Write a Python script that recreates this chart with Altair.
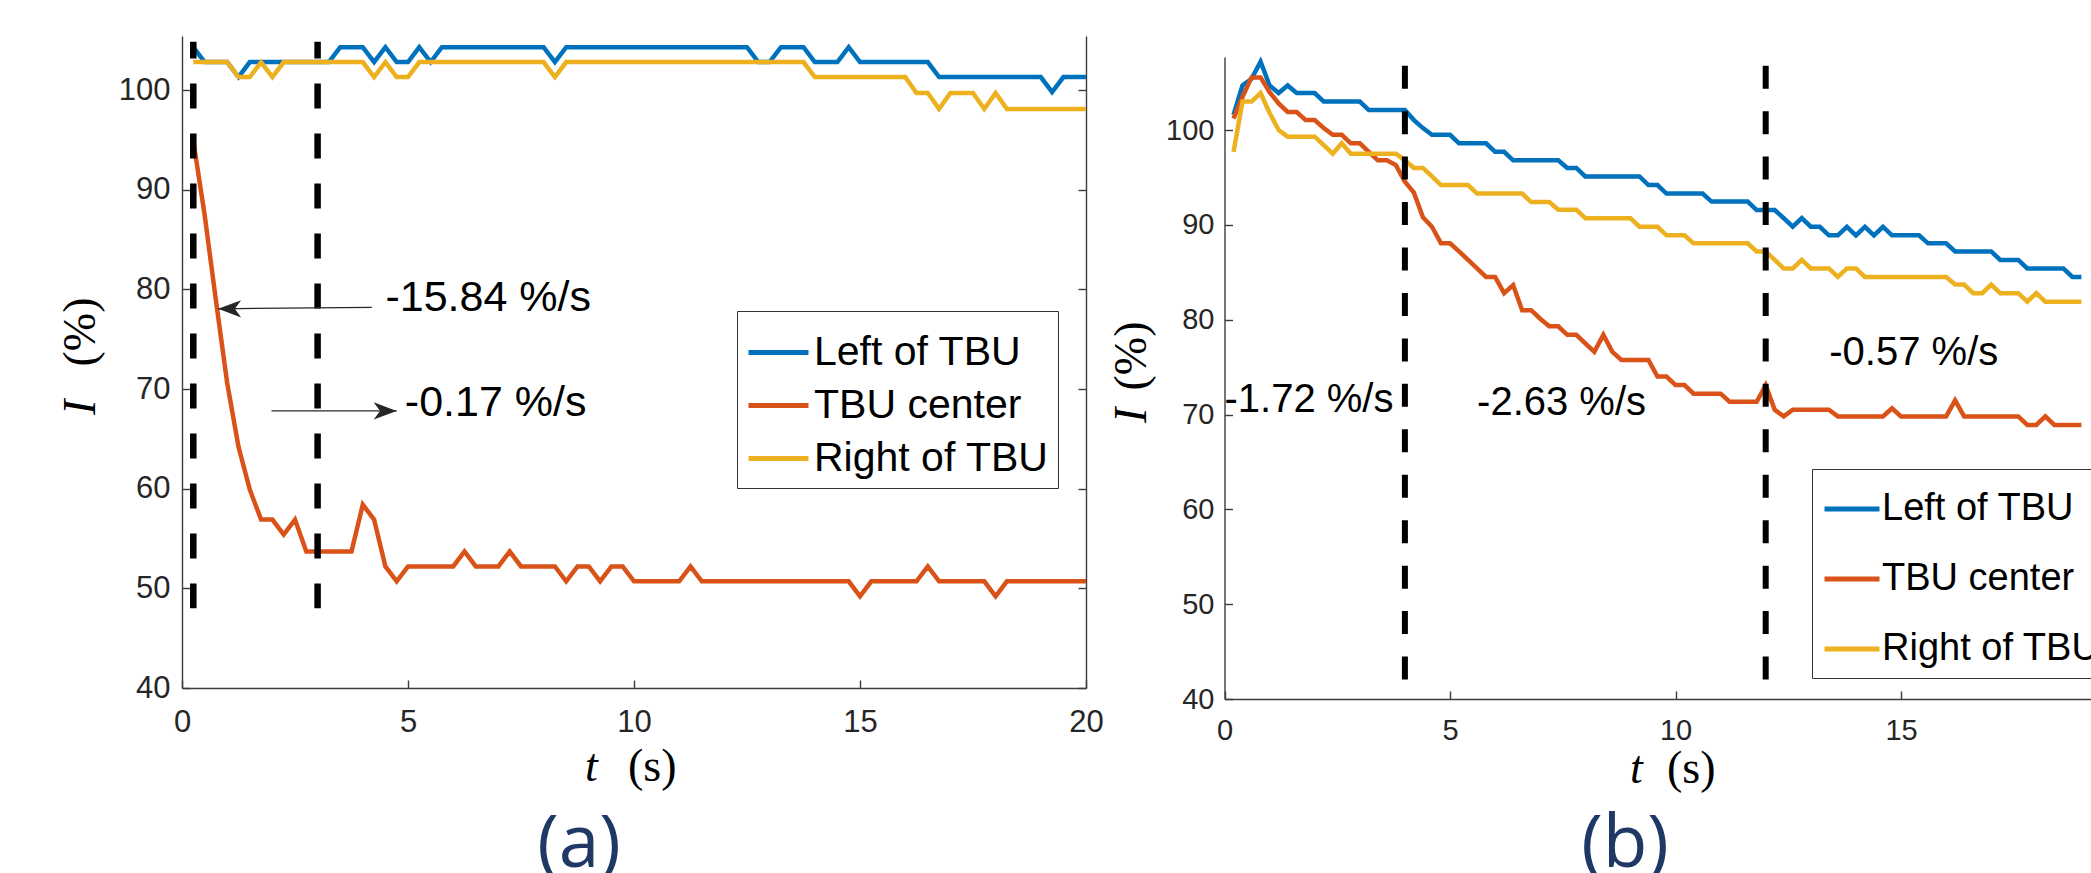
import altair as alt
import pandas as pd

# ---------------- data: panel (a) ----------------
T_A = [round(0.25 * k, 2) for k in range(1, 81)]  # sample times 0.25 ... 20 s
LEFT_A = [104.3, 102.8, 102.8, 102.8, 101.3, 102.8, 102.8, 102.8, 102.8, 102.8,
          102.8, 102.8, 102.8, 104.3, 104.3, 104.3, 102.8, 104.3, 102.8, 102.8,
          104.3, 102.8, 104.3, 104.3, 104.3, 104.3, 104.3, 104.3, 104.3, 104.3,
          104.3, 104.3, 102.8, 104.3, 104.3, 104.3, 104.3, 104.3, 104.3, 104.3,
          104.3, 104.3, 104.3, 104.3, 104.3, 104.3, 104.3, 104.3, 104.3, 104.3,
          102.8, 102.8, 104.3, 104.3, 104.3, 102.8, 102.8, 102.8, 104.3, 102.8,
          102.8, 102.8, 102.8, 102.8, 102.8, 102.8, 101.3, 101.3, 101.3, 101.3,
          101.3, 101.3, 101.3, 101.3, 101.3, 101.3, 99.8, 101.3, 101.3, 101.3]
CENTER_A = [94.9, 87.5, 78.9, 70.6, 64.2, 59.9, 56.9, 56.9, 55.4, 56.9,
            53.7, 53.7, 53.7, 53.7, 53.7, 58.4, 56.9, 52.2, 50.7, 52.2,
            52.2, 52.2, 52.2, 52.2, 53.7, 52.2, 52.2, 52.2, 53.7, 52.2,
            52.2, 52.2, 52.2, 50.7, 52.2, 52.2, 50.7, 52.2, 52.2, 50.7,
            50.7, 50.7, 50.7, 50.7, 52.2, 50.7, 50.7, 50.7, 50.7, 50.7,
            50.7, 50.7, 50.7, 50.7, 50.7, 50.7, 50.7, 50.7, 50.7, 49.2,
            50.7, 50.7, 50.7, 50.7, 50.7, 52.2, 50.7, 50.7, 50.7, 50.7,
            50.7, 49.2, 50.7, 50.7, 50.7, 50.7, 50.7, 50.7, 50.7, 50.7]
RIGHT_A = [102.8, 102.8, 102.8, 102.8, 101.3, 101.3, 102.8, 101.3, 102.8, 102.8,
           102.8, 102.8, 102.8, 102.8, 102.8, 102.8, 101.3, 102.8, 101.3, 101.3,
           102.8, 102.8, 102.8, 102.8, 102.8, 102.8, 102.8, 102.8, 102.8, 102.8,
           102.8, 102.8, 101.3, 102.8, 102.8, 102.8, 102.8, 102.8, 102.8, 102.8,
           102.8, 102.8, 102.8, 102.8, 102.8, 102.8, 102.8, 102.8, 102.8, 102.8,
           102.8, 102.8, 102.8, 102.8, 102.8, 101.3, 101.3, 101.3, 101.3, 101.3,
           101.3, 101.3, 101.3, 101.3, 99.7, 99.7, 98.1, 99.7, 99.7, 99.7,
           98.1, 99.7, 98.1, 98.1, 98.1, 98.1, 98.1, 98.1, 98.1, 98.1]

# ---------------- data: panel (b) ----------------
T_B = [round(0.2 * k, 1) for k in range(1, 96)]  # sample times 0.2 ... 19 s
LEFT_B = [101.6, 104.7, 105.4, 107.2, 104.7, 103.9, 104.7, 103.9, 103.9, 103.9,
          103.0, 103.0, 103.0, 103.0, 103.0, 102.1, 102.1, 102.1, 102.1, 102.1,
          101.05, 100.2, 99.5, 99.5, 99.5, 98.6, 98.6, 98.6, 98.6, 97.7,
          97.7, 96.8, 96.8, 96.8, 96.8, 96.8, 96.8, 96.0, 96.0, 95.1,
          95.1, 95.1, 95.1, 95.1, 95.1, 95.1, 94.2, 94.2, 93.3, 93.3,
          93.3, 93.3, 93.3, 92.45, 92.45, 92.45, 92.45, 92.45, 91.56, 91.56,
          91.56, 90.7, 89.8, 90.7, 89.8, 89.8, 88.9, 88.9, 89.8, 88.9,
          89.8, 88.9, 89.8, 88.9, 88.9, 88.9, 88.9, 88.05, 88.05, 88.05,
          87.2, 87.2, 87.2, 87.2, 87.2, 86.3, 86.3, 86.3, 85.4, 85.4,
          85.4, 85.4, 85.4, 84.5, 84.5]
CENTER_B = [101.2, 103.5, 105.55, 105.55, 104.0, 102.8, 101.9, 101.9, 101.05, 101.05,
            100.2, 99.5, 99.5, 98.6, 98.6, 97.7, 96.8, 96.8, 96.3, 94.55,
            93.4, 90.8, 89.8, 88.05, 88.05, 87.2, 86.3, 85.4, 84.5, 84.5,
            82.8, 83.65, 81.0, 81.0, 80.1, 79.3, 79.3, 78.4, 78.4, 77.5,
            76.6, 78.4, 76.6, 75.75, 75.75, 75.75, 75.75, 74.0, 74.0, 73.1,
            73.1, 72.2, 72.2, 72.2, 72.2, 71.35, 71.35, 71.35, 71.35, 73.1,
            70.5, 69.8, 70.5, 70.5, 70.5, 70.5, 70.5, 69.8, 69.8, 69.8,
            69.8, 69.8, 69.8, 70.65, 69.8, 69.8, 69.8, 69.8, 69.8, 69.8,
            71.5, 69.8, 69.8, 69.8, 69.8, 69.8, 69.8, 69.8, 68.9, 68.9,
            69.8, 68.9, 68.9, 68.9, 68.9]
RIGHT_B = [97.7, 103.0, 103.0, 103.9, 101.8, 100.0, 99.3, 99.3, 99.3, 99.3,
           98.4, 97.5, 98.6, 97.5, 97.5, 97.5, 97.5, 97.5, 97.5, 96.8,
           96.0, 96.0, 95.1, 94.2, 94.2, 94.2, 94.2, 93.3, 93.3, 93.3,
           93.3, 93.3, 93.3, 92.4, 92.4, 92.4, 91.6, 91.6, 91.6, 90.7,
           90.7, 90.7, 90.7, 90.7, 90.7, 89.8, 89.8, 89.8, 88.9, 88.9,
           88.9, 88.05, 88.05, 88.05, 88.05, 88.05, 88.05, 88.05, 87.2, 87.2,
           86.3, 85.4, 85.4, 86.3, 85.4, 85.4, 85.4, 84.5, 85.4, 85.4,
           84.5, 84.5, 84.5, 84.5, 84.5, 84.5, 84.5, 84.5, 84.5, 84.5,
           83.7, 83.7, 82.8, 82.8, 83.7, 82.8, 82.8, 82.8, 81.9, 82.8,
           81.9, 81.9, 81.9, 81.9, 81.9]

SERIES = ["Left of TBU", "TBU center", "Right of TBU"]
COLORS = ["#0072BD", "#D95319", "#EDB120"]
X_TICKS = [0, 5, 10, 15, 20]
Y_TICKS = [40, 50, 60, 70, 80, 90, 100]

# dashed markers
DASH_A_T = [0.25, 3.0]
DASH_A_TOP, DASH_A_BOT = 104.85, 48.0
DASH_B_T = [4.0, 12.0]
DASH_B_TOP, DASH_B_BOT = 106.78, 42.0

# annotations
ANN_A_TEXT = ["-15.84 %/s", "-0.17 %/s"]
ANN_A_T = [4.5, 4.93]
ANN_A_V = [79.1, 68.6]
ANN_B_TEXT = ["-1.72 %/s", "-2.63 %/s", "-0.57 %/s"]
ANN_B_T = [0.0, 5.6, 13.41]
ANN_B_V = [71.5, 71.26, 76.5]

# arrows in panel (a)
ARR_FROM_T = [4.2, 1.98]
ARR_FROM_V = [78.2, 67.8]
ARR_TO_T = [0.8, 4.75]
ARR_TO_V = [78.05, 67.8]

# ---------------- styling ----------------
W, H = 2091, 873
SANS = "Liberation Sans"
SERIF = "Liberation Serif"
AXC = "#3c3c3c"
TXT = "#262626"
ONE = pd.DataFrame({"k": [0]})


def text_layer(txt, x, y, font, size, style="normal", angle=0, align="left", color="black"):
    return alt.Chart(ONE).mark_text(
        text=txt, font=font, fontSize=size, fontStyle=style, angle=angle,
        align=align, baseline="alphabetic", color=color
    ).encode(x=alt.value(x), y=alt.value(y))


def panel(t, left, center, right, xrange, ydomain, yrange, fs_tick, pad_x, pad_y,
          legend, dash_t, dash_top, dash_bot, dash_w, dash_pat, dash_off,
          ann_text, ann_t, ann_v, ann_fs, right_border, arrows, titles):
    n = len(t)
    df = pd.DataFrame({
        "t": list(t) * 3,
        "v": list(left) + list(center) + list(right),
        "series": [s for s in SERIES for _ in range(n)],
    })
    xs = alt.Scale(domain=[0, 20], range=xrange, nice=False, zero=False)
    ys = alt.Scale(domain=ydomain, range=yrange, nice=False, zero=False)
    x_axis_y = yrange[0]

    common = dict(grid=False, title=None)
    ax_x_main = alt.Axis(orient="bottom", offset=x_axis_y - H, values=X_TICKS, format="d",
                         labelFontSize=fs_tick, labelFont=SANS, labelColor=TXT,
                         labelPadding=pad_x, ticks=False, tickSize=0, domain=True,
                         domainColor=AXC, domainWidth=1.4, labelFlush=False,
                         labelOverlap=False, **common)
    ax_x_in = alt.Axis(orient="top", offset=-x_axis_y, values=X_TICKS, labels=False,
                       ticks=True, tickSize=8, tickColor=AXC, tickWidth=1.4,
                       domain=False, **common)
    ax_y_main = alt.Axis(orient="left", offset=-xrange[0], values=Y_TICKS, format="d",
                         labelFontSize=fs_tick, labelFont=SANS, labelColor=TXT,
                         labelPadding=pad_y, ticks=False, tickSize=0, domain=True,
                         domainColor=AXC, domainWidth=1.4, labelFlush=False,
                         labelOverlap=False, **common)
    ax_y_in = alt.Axis(orient="right", offset=xrange[0] - W, values=Y_TICKS, labels=False,
                       ticks=True, tickSize=8, tickColor=AXC, tickWidth=1.4,
                       domain=False, **common)
    ax_y_border = alt.Axis(orient="left", offset=-xrange[1], values=Y_TICKS, labels=False,
                           ticks=True, tickSize=8, tickColor=AXC, tickWidth=1.4,
                           domain=True, domainColor=AXC, domainWidth=1.4, **common)

    color = alt.Color("series:N", scale=alt.Scale(domain=SERIES, range=COLORS),
                      legend=legend, sort=SERIES)
    layers = []
    for i, s in enumerate(SERIES):
        xa = ax_x_main if i == 0 else (ax_x_in if i == 1 else None)
        if i == 0:
            ya = ax_y_main
        elif i == 1:
            ya = ax_y_in
        else:
            ya = ax_y_border if right_border else None
        layers.append(
            alt.Chart(df).transform_filter(alt.datum.series == s)
            .mark_line(strokeWidth=4.5, clip=True)
            .encode(x=alt.X("t:Q", scale=xs, axis=xa),
                    y=alt.Y("v:Q", scale=ys, axis=ya),
                    color=color)
        )

    dash_df = pd.DataFrame({"t": dash_t, "top": [dash_top] * len(dash_t),
                            "bot": [dash_bot] * len(dash_t)})
    layers.append(
        alt.Chart(dash_df).mark_rule(color="black", strokeWidth=dash_w, strokeDash=dash_pat,
                                     strokeDashOffset=dash_off, strokeCap="butt")
        .encode(x=alt.X("t:Q", scale=xs, axis=None),
                y=alt.Y("top:Q", scale=ys, axis=None),
                y2="bot:Q")
    )

    if arrows is not None:
        ft, fv, tt, tv = arrows
        arr_df = pd.DataFrame({"ft": ft, "fv": fv, "tt": tt, "tv": tv})
        layers.append(
            alt.Chart(arr_df).mark_rule(color=TXT, strokeWidth=1.3)
            .encode(x=alt.X("ft:Q", scale=xs, axis=None), x2="tt:Q",
                    y=alt.Y("fv:Q", scale=ys, axis=None), y2="tv:Q")
        )
        heads = [("M0,0L2,-0.75L1.45,0L2,0.75Z", 0), ("M0,0L-2,-0.75L-1.45,0L-2,0.75Z", 1)]
        for path, idx in heads:
            layers.append(
                alt.Chart(arr_df.iloc[[idx]]).mark_point(shape=path, size=529, filled=True,
                                                         color=TXT, opacity=1, strokeWidth=0)
                .encode(x=alt.X("tt:Q", scale=xs, axis=None),
                        y=alt.Y("tv:Q", scale=ys, axis=None))
            )

    ann_df = pd.DataFrame({"t": ann_t, "v": ann_v, "label": ann_text})
    layers.append(
        alt.Chart(ann_df).mark_text(align="left", baseline="middle", font=SANS,
                                    fontSize=ann_fs, color="black")
        .encode(x=alt.X("t:Q", scale=xs, axis=None),
                y=alt.Y("v:Q", scale=ys, axis=None),
                text="label:N")
    )

    layers.extend(titles)
    return alt.layer(*layers).resolve_axis(x="independent", y="independent")


legend_a = alt.Legend(title=None, orient="none", legendX=737, legendY=311,
                      symbolType="stroke", symbolSize=3600, symbolStrokeWidth=5,
                      labelFontSize=41, labelFont=SANS, labelColor="black",
                      labelOffset=3, symbolOffset=0, rowPadding=0, padding=9,
                      strokeColor="#333333", fillColor="white", labelLimit=600)
legend_b = alt.Legend(title=None, orient="none", legendX=1812, legendY=469,
                      symbolType="stroke", symbolSize=3025, symbolStrokeWidth=5,
                      labelFontSize=38, labelFont=SANS, labelColor="black",
                      labelOffset=0, symbolOffset=0, rowPadding=21, padding=10,
                      strokeColor="#333333", fillColor="white", labelLimit=600)

titles_a = [
    text_layer("t", 585, 781, SERIF, 46, style="italic"),
    text_layer("(s)", 628, 781, SERIF, 46),
    text_layer("I", 95, 415, SERIF, 46, style="italic", angle=270),
    text_layer("(%)", 95, 366.5, SERIF, 46, angle=270),
    text_layer("(a)", 579, 867, "Open Sans", 73, align="center", color="#1F3864"),
]
titles_b = [
    text_layer("t", 1630, 783, SERIF, 46, style="italic"),
    text_layer("(s)", 1667, 783, SERIF, 46),
    text_layer("I", 1146, 423, SERIF, 46, style="italic", angle=270),
    text_layer("(%)", 1146, 390.5, SERIF, 46, angle=270),
    text_layer("(b)", 1625, 867, "Open Sans", 73, align="center", color="#1F3864"),
]

panel_a = panel(T_A, LEFT_A, CENTER_A, RIGHT_A, [182, 1086], [40, 105.42], [688, 36],
                31, 19, 12, legend_a, DASH_A_T, DASH_A_TOP, DASH_A_BOT, 6.5, [25, 25], 8.3,
                ANN_A_TEXT, ANN_A_T, ANN_A_V, 43, True,
                (ARR_FROM_T, ARR_FROM_V, ARR_TO_T, ARR_TO_V), titles_a)
panel_b = panel(T_B, LEFT_B, CENTER_B, RIGHT_B, [1224.5, 2126.5], [40, 107.7], [699, 57],
                29, 17, 10.5, legend_b, DASH_B_T, DASH_B_TOP, DASH_B_BOT, 6, [23, 22.45], 0,
                ANN_B_TEXT, ANN_B_T, ANN_B_V, 40, False, None, titles_b)

chart = (
    alt.layer(panel_a, panel_b)
    .resolve_scale(x="independent", y="independent", color="independent")
    .properties(width=W, height=H, padding=0, autosize=alt.AutoSizeParams(type="none"),
                background="white")
    .configure_view(stroke=None)
)

chart.save("out.html", embed_options={"renderer": "svg", "actions": False})
